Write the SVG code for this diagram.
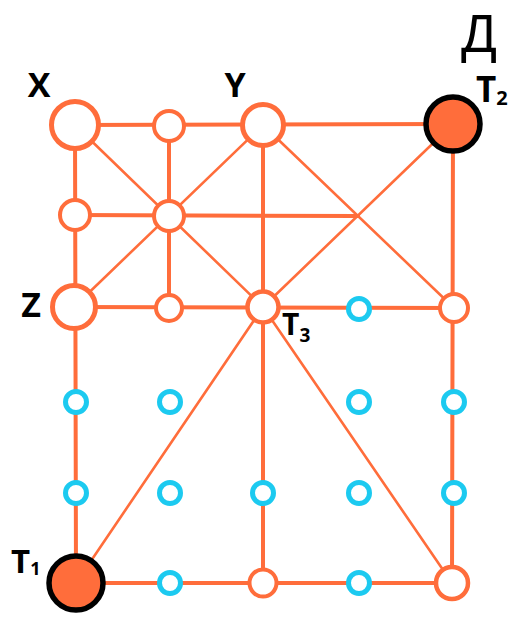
<svg xmlns="http://www.w3.org/2000/svg" width="522" height="636" viewBox="0 0 522 636">
<style>
.e{stroke:#ff6d3b;fill:none;stroke-linecap:round}
.t{stroke-width:4}
.d{stroke-width:2.6}
.o{fill:#fff;stroke:#ff6d3b}
.c{fill:#fff;stroke:#1ccaf0;stroke-width:5}
.k{fill:#ff6d3b;stroke:#000;stroke-width:5.5}
.l{font-family:"Open Sans","Liberation Sans",sans-serif;font-weight:bold;fill:#000}
</style>
<rect width="522" height="636" fill="#fff"/>
<g id="connectors">
<line class="e t" x1="75" y1="125" x2="453" y2="124"/>
<line class="e t" x1="75" y1="125" x2="76" y2="583"/>
<line class="e t" x1="76" y1="583" x2="452" y2="583"/>
<line class="e t" x1="453" y1="124" x2="452" y2="583"/>
<line class="e t" x1="169" y1="126" x2="169" y2="308"/>
<line class="e t" x1="263" y1="125" x2="263" y2="584"/>
<line class="e t" x1="74" y1="307" x2="454" y2="308"/>
<line class="e t" x1="75" y1="215" x2="358" y2="216"/>
<line class="e d" x1="75" y1="125" x2="263" y2="307"/>
<line class="e d" x1="263" y1="125" x2="74" y2="307"/>
<line class="e d" x1="263" y1="125" x2="454" y2="308"/>
<line class="e d" x1="453" y1="124" x2="263" y2="307"/>
<line class="e d" x1="263" y1="307" x2="76" y2="583"/>
<line class="e d" x1="263" y1="307" x2="452" y2="583"/>
</g>
<g id="n-x"><circle class="o" cx="75" cy="125" r="23.5" stroke-width="5"/></g>
<g id="n-top-mid"><circle class="o" cx="169" cy="126" r="15" stroke-width="4"/></g>
<g id="n-y"><circle class="o" cx="263" cy="125" r="20.5" stroke-width="5"/></g>
<g id="n-t2"><circle class="k" cx="453" cy="124" r="27"/></g>
<g id="n-left-mid"><circle class="o" cx="75" cy="215" r="15" stroke-width="4"/></g>
<g id="n-center"><circle class="o" cx="169" cy="216" r="15" stroke-width="4"/></g>
<g id="n-z"><circle class="o" cx="74" cy="307" r="21.5" stroke-width="5"/></g>
<g id="n-mid-small"><circle class="o" cx="169" cy="308" r="13" stroke-width="4"/></g>
<g id="n-t3"><circle class="o" cx="263" cy="307" r="15.5" stroke-width="4.5"/></g>
<g id="n-c1"><circle class="c" cx="359" cy="309" r="10.5"/></g>
<g id="n-right-mid"><circle class="o" cx="454" cy="308" r="14" stroke-width="4"/></g>
<g id="n-c2"><circle class="c" cx="76" cy="402" r="10.5"/></g>
<g id="n-c3"><circle class="c" cx="170" cy="402" r="10.5"/></g>
<g id="n-c4"><circle class="c" cx="359" cy="402" r="10.5"/></g>
<g id="n-c5"><circle class="c" cx="454" cy="402" r="10.5"/></g>
<g id="n-c6"><circle class="c" cx="76" cy="493" r="10.5"/></g>
<g id="n-c7"><circle class="c" cx="170" cy="493" r="10.5"/></g>
<g id="n-c8"><circle class="c" cx="263" cy="493" r="10.5"/></g>
<g id="n-c9"><circle class="c" cx="359" cy="493" r="10.5"/></g>
<g id="n-c10"><circle class="c" cx="454" cy="493" r="10.5"/></g>
<g id="n-t1"><circle class="k" cx="76" cy="583" r="27"/></g>
<g id="n-c11"><circle class="c" cx="170" cy="583" r="10.5"/></g>
<g id="n-bottom-mid"><circle class="o" cx="263" cy="583" r="13.5" stroke-width="4"/></g>
<g id="n-c12"><circle class="c" cx="359" cy="583" r="10.5"/></g>
<g id="n-bottom-right"><circle class="o" cx="452" cy="583" r="16" stroke-width="4.5"/></g>
<g id="labels">
<text class="l" x="39" y="97" font-size="34" text-anchor="middle">X</text>
<text class="l" x="235" y="97" font-size="34" text-anchor="middle">Y</text>
<text class="l" x="31" y="317" font-size="34" text-anchor="middle">Z</text>
<text x="479" y="52" font-size="53" text-anchor="middle" font-family="'Liberation Sans',sans-serif" fill="#000">Д</text>
<text class="l" x="476" y="102" font-size="35">T<tspan font-size="20" dy="3">2</tspan></text>
<text class="l" x="11" y="573" font-size="33">T<tspan font-size="18" dy="2">1</tspan></text>
<text class="l" x="282" y="335" font-size="30">T<tspan font-size="19" dy="7">3</tspan></text>
</g>
</svg>
